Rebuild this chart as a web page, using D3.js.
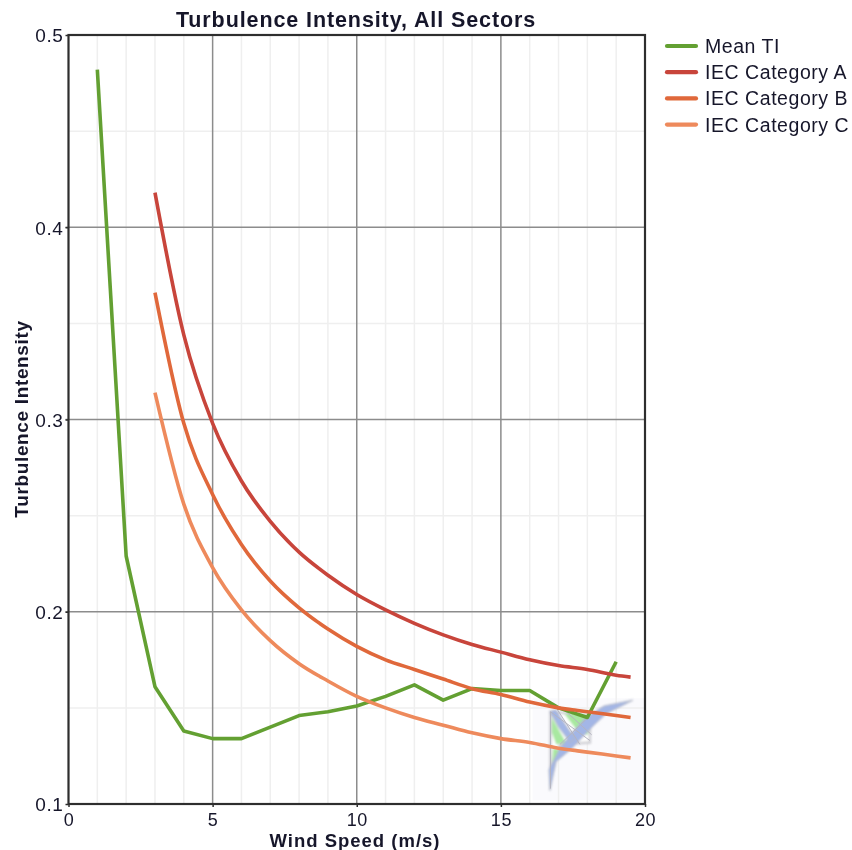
<!DOCTYPE html>
<html>
<head>
<meta charset="utf-8">
<script src="https://cdnjs.cloudflare.com/ajax/libs/d3/7.8.5/d3.min.js"></script>
<style>
  html, body { margin: 0; padding: 0; background: #fff; }
  svg { display: block; }
  text { font-family: "Liberation Sans", Arial, sans-serif; fill: #16162a; }
</style>
</head>
<body>
<div id="chart"></div>
<script>
var WIDTH = 852, HEIGHT = 850;

var meanX = [1, 2, 3, 4, 5, 6, 7, 8, 9, 10, 11, 12, 13, 14, 15, 16, 17, 18, 19];
var meanTI = [0.482, 0.229, 0.161, 0.138, 0.134, 0.134, 0.140, 0.146, 0.148, 0.151, 0.156, 0.162, 0.154, 0.160, 0.159, 0.159, 0.150, 0.145, 0.174];

var iecX = [3, 4, 5, 6, 7, 8, 9, 10, 11, 12, 13, 14, 15, 16, 17, 18, 19, 19.5];
var iecA = [0.418, 0.344, 0.298, 0.268, 0.247, 0.231, 0.219, 0.209, 0.201, 0.194, 0.188, 0.183, 0.179, 0.175, 0.172, 0.170, 0.167, 0.166];
var iecB = [0.366, 0.298, 0.261, 0.235, 0.216, 0.202, 0.191, 0.182, 0.175, 0.170, 0.165, 0.160, 0.157, 0.153, 0.150, 0.148, 0.146, 0.145];
var iecC = [0.314, 0.256, 0.223, 0.201, 0.185, 0.173, 0.164, 0.156, 0.150, 0.145, 0.141, 0.137, 0.134, 0.132, 0.129, 0.127, 0.125, 0.124];

var seriesNames = ['Mean TI', 'IEC Category A', 'IEC Category B', 'IEC Category C'];
var seriesColors = ['#64a032', '#c8443a', '#e0683a', '#ee8a5c'];

var xTicks = [0, 5, 10, 15, 20];
var yTicks = [0.1, 0.2, 0.3, 0.4, 0.5];
var xMinor = [1, 2, 3, 4, 6, 7, 8, 9, 11, 12, 13, 14, 16, 17, 18, 19];
var yMinor = [0.15, 0.25, 0.35, 0.45];

// logo smudge in the lower right corner, [wind speed, TI] outlines
var logoBack = [[16.1, 0.155], [20, 0.155], [20, 0.102], [16.1, 0.102]];
var logoBase = [[16.72, 0.148], [18.09, 0.146], [18.09, 0.132], [17.05, 0.131], [16.72, 0.112]];
var logoBlue = [
  [[16.70, 0.107], [16.91, 0.122], [17.47, 0.129], [18.16, 0.140], [18.65, 0.147], [19.58, 0.154], [18.58, 0.151], [17.95, 0.145], [17.40, 0.136], [17.05, 0.129], [16.67, 0.118]],
  [[16.70, 0.148], [16.90, 0.149], [17.57, 0.134], [17.40, 0.132], [17.00, 0.140]]
];
var logoGreen = [
  [[16.77, 0.145], [17.26, 0.132], [16.92, 0.131], [16.77, 0.137]],
  [[17.20, 0.147], [18.09, 0.146], [18.02, 0.136], [17.70, 0.137]],
  [[16.81, 0.129], [17.08, 0.128], [16.77, 0.119]]
];
var logoLines = [
  [[16.72, 0.148], [16.72, 0.108]],
  [[16.72, 0.148], [18.09, 0.133]],
  [[17.12, 0.150], [18.15, 0.136]],
  [[18.09, 0.146], [17.05, 0.131]],
  [[16.92, 0.150], [17.74, 0.131]]
];

var x = d3.scaleLinear().domain([0, 20]).range([68.5, 645]);
var y = d3.scaleLinear().domain([0.1, 0.5]).range([804, 35]);

var svg = d3.select('#chart').append('svg')
  .attr('width', WIDTH)
  .attr('height', HEIGHT);

var defs = svg.append('defs');
defs.append('filter').attr('id', 'soft').append('feGaussianBlur').attr('stdDeviation', 0.45);
defs.append('filter').attr('id', 'logoBlur').append('feGaussianBlur').attr('stdDeviation', 1.1);

var root = svg.append('g').attr('filter', 'url(#soft)');

var toPath = d3.line()
  .x(function (d) { return x(d[0]); })
  .y(function (d) { return y(d[1]); });

var toCurve = d3.line()
  .x(function (d) { return x(d[0]); })
  .y(function (d) { return y(d[1]); })
  .curve(d3.curveMonotoneX);

// logo background goes under the grid
root.append('path')
  .attr('d', toPath(logoBack) + 'Z')
  .attr('fill', '#fafafd');

// grid
root.append('g').selectAll('line').data(xMinor).enter().append('line')
  .attr('x1', function (d) { return x(d); }).attr('x2', function (d) { return x(d); })
  .attr('y1', y(0.5)).attr('y2', y(0.1))
  .attr('stroke', '#efefef').attr('stroke-width', 1.5);
root.append('g').selectAll('line').data(yMinor).enter().append('line')
  .attr('y1', function (d) { return y(d); }).attr('y2', function (d) { return y(d); })
  .attr('x1', x(0)).attr('x2', x(20))
  .attr('stroke', '#efefef').attr('stroke-width', 1.5);
root.append('g').selectAll('line').data(xTicks.slice(1, 4)).enter().append('line')
  .attr('x1', function (d) { return x(d); }).attr('x2', function (d) { return x(d); })
  .attr('y1', y(0.5)).attr('y2', y(0.1))
  .attr('stroke', '#8c8c8c').attr('stroke-width', 1.5);
root.append('g').selectAll('line').data(yTicks.slice(1, 4)).enter().append('line')
  .attr('y1', function (d) { return y(d); }).attr('y2', function (d) { return y(d); })
  .attr('x1', x(0) - 3).attr('x2', x(20))
  .attr('stroke', '#8c8c8c').attr('stroke-width', 1.5);

// logo
var logo = root.append('g').attr('filter', 'url(#logoBlur)');
logo.append('path')
  .attr('d', toPath(logoBase) + 'Z')
  .attr('fill', '#ffffff').attr('stroke', '#cfcfd4').attr('stroke-width', 2.5);
logo.selectAll('path.green').data(logoGreen).enter().append('path')
  .attr('class', 'green')
  .attr('d', function (d) { return toPath(d) + 'Z'; })
  .attr('fill', '#a8e8a0');
logo.selectAll('path.blue').data(logoBlue).enter().append('path')
  .attr('class', 'blue')
  .attr('d', function (d) { return toPath(d) + 'Z'; })
  .attr('fill', '#a3b6e6').attr('stroke', '#b4b8c4').attr('stroke-width', 1);
root.append('g').selectAll('path').data(logoLines).enter().append('path')
  .attr('d', toPath)
  .attr('stroke', '#b4b4c0').attr('stroke-width', 1).attr('fill', 'none');

// series
var seriesData = [
  d3.zip(meanX, meanTI),
  d3.zip(iecX, iecA),
  d3.zip(iecX, iecB),
  d3.zip(iecX, iecC)
];
[0, 3, 2, 1].forEach(function (i) {
  root.append('path')
    .attr('d', i === 0 ? toPath(seriesData[i]) : toCurve(seriesData[i]))
    .attr('fill', 'none')
    .attr('stroke', seriesColors[i])
    .attr('stroke-width', 3.6)
    .attr('stroke-linejoin', 'round');
});

// frame
root.append('rect')
  .attr('x', x(0)).attr('y', y(0.5))
  .attr('width', x(20) - x(0)).attr('height', y(0.1) - y(0.5))
  .attr('fill', 'none')
  .attr('stroke', '#2e2e2e')
  .attr('stroke-width', 2.2);

// axes
var xAxis = d3.axisBottom(x).tickValues(xTicks).tickSize(3).tickFormat(d3.format('d'));
var yAxis = d3.axisLeft(y).tickValues(yTicks).tickSize(3).tickFormat(d3.format('.1f'));

var gx = root.append('g').attr('transform', 'translate(0,' + y(0.1) + ')').call(xAxis);
var gy = root.append('g').attr('transform', 'translate(' + x(0) + ',0)').call(yAxis);
gx.select('.domain').remove();
gy.select('.domain').remove();
gx.selectAll('text').attr('font-size', 18).attr('dy', 0).attr('y', 22).attr('letter-spacing', 0.6);
gy.selectAll('text').attr('font-size', 19).attr('x', -5).attr('dy', '0.36em').attr('letter-spacing', 0.6);
gx.selectAll('line').attr('stroke', '#2e2e2e').attr('stroke-width', 1.5);
gy.selectAll('line').attr('stroke', '#2e2e2e').attr('stroke-width', 1.5);

// titles
root.append('text')
  .attr('x', 356).attr('y', 27)
  .attr('text-anchor', 'middle')
  .attr('font-size', 21.5).attr('font-weight', 'bold').attr('letter-spacing', 0.9)
  .text('Turbulence Intensity, All Sectors');
root.append('text')
  .attr('x', 355).attr('y', 847)
  .attr('text-anchor', 'middle')
  .attr('font-size', 18.5).attr('font-weight', 'bold').attr('letter-spacing', 1)
  .text('Wind Speed (m/s)');
root.append('text')
  .attr('transform', 'translate(28,419) rotate(-90)')
  .attr('text-anchor', 'middle')
  .attr('font-size', 19).attr('font-weight', 'bold').attr('letter-spacing', 0.65)
  .text('Turbulence Intensity');

// legend
var legend = root.append('g').selectAll('g').data(seriesNames).enter().append('g')
  .attr('transform', function (d, i) { return 'translate(667,' + (46 + i * 26.2) + ')'; });
legend.append('line')
  .attr('x1', 0).attr('x2', 29)
  .attr('stroke', function (d, i) { return seriesColors[i]; })
  .attr('stroke-width', 4.2)
  .attr('stroke-linecap', 'round');
legend.append('text')
  .attr('x', 38).attr('dy', '0.36em')
  .attr('font-size', 19.5).attr('letter-spacing', 0.55)
  .text(function (d) { return d; });
</script>
</body>
</html>
